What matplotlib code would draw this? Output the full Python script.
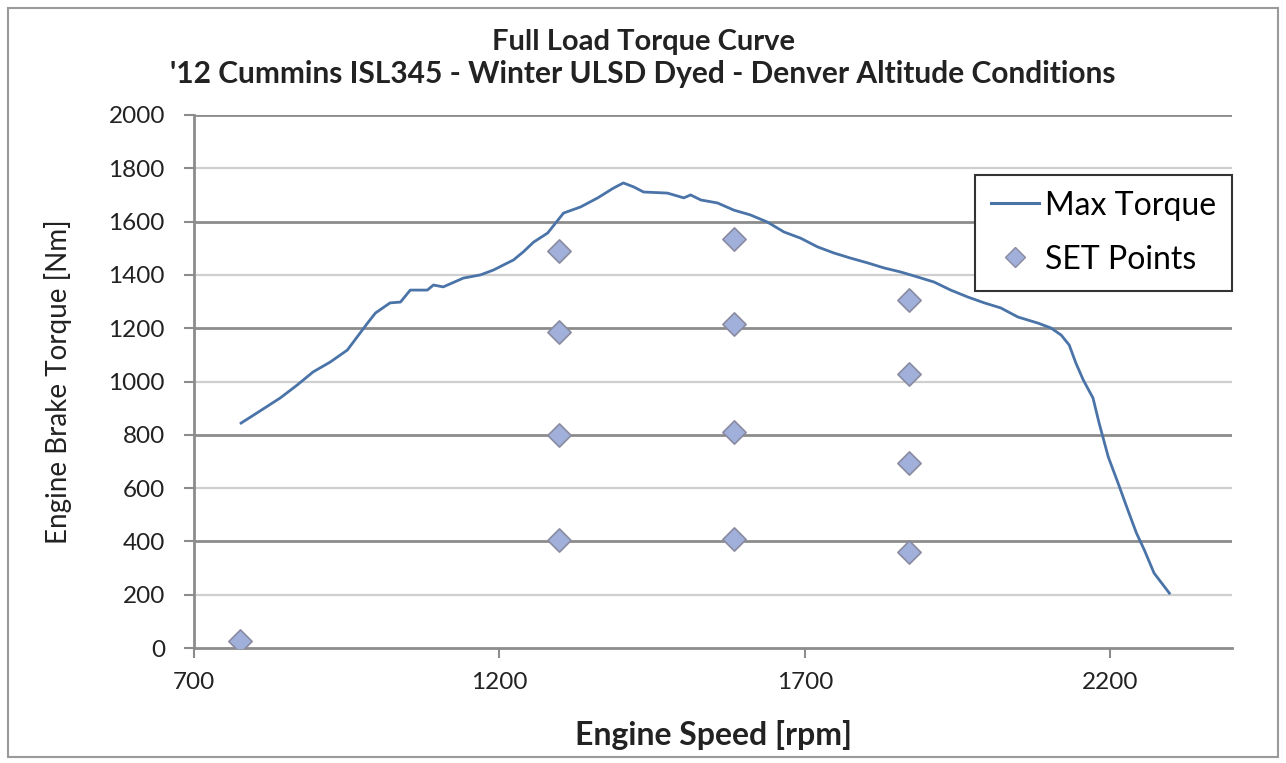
import matplotlib
matplotlib.use("Agg")
import matplotlib.pyplot as plt
from matplotlib.lines import Line2D
from matplotlib.patches import Rectangle

plt.rcParams['font.family'] = ['Lato', 'DejaVu Sans']

# Max torque curve
speed_rpm = [777, 803, 841, 869, 895, 923, 951, 967, 984, 997, 1021, 1038, 1054, 1082, 1092,
             1108, 1141, 1169, 1190, 1223, 1239, 1256, 1279, 1305, 1333, 1361, 1387, 1403, 1420, 1436,
             1475, 1502, 1513, 1530, 1557, 1584, 1611, 1639, 1666, 1693, 1721, 1748, 1775, 1803, 1830,
             1857, 1885, 1912, 1939, 1967, 1994, 2021, 2049, 2082, 2103, 2120, 2133, 2144, 2156, 2172,
             2182, 2197, 2213, 2229, 2243, 2256, 2272, 2297]
torque_nm = [844, 882, 938, 987, 1036, 1073, 1118, 1167, 1219, 1257, 1295, 1298, 1343, 1343, 1362,
             1355, 1388, 1400, 1418, 1456, 1486, 1523, 1557, 1632, 1655, 1689, 1726, 1745, 1730, 1711,
             1707, 1689, 1700, 1681, 1670, 1643, 1625, 1598, 1561, 1538, 1505, 1482, 1463, 1445, 1426,
             1411, 1392, 1373, 1343, 1317, 1295, 1276, 1242, 1219, 1201, 1174, 1137, 1069, 1006, 938,
             844, 717, 619, 518, 432, 368, 281, 206]

# SET points
set_speed = [775, 1297, 1297, 1297, 1297, 1584, 1584, 1584, 1584, 1871, 1871, 1871, 1871]
set_torque = [25, 1490, 1185, 800, 405, 1535, 1215, 810, 410, 1305, 1030, 695, 360]

x_ticks = [700, 1200, 1700, 2200]
y_ticks = list(range(0, 2001, 200))

title_lines = ["Full Load Torque Curve",
               "'12 Cummins ISL345 - Winter ULSD Dyed - Denver Altitude Conditions"]

fig = plt.figure(figsize=(12.86, 7.63), dpi=100)
fig.patches.append(Rectangle((0.006, 0.008), 0.988, 0.982, transform=fig.transFigure,
                             fill=False, edgecolor='#9a9a9a', linewidth=1.5))
ax = fig.add_axes([0.1509, 0.1507, 0.8073, 0.6986])

for v in y_ticks[1:]:
    major = (v % 400 == 0)
    ax.axhline(v, color='#8c8c8c' if major else '#cfcfcf', linewidth=2.0 if major else 1.6, zorder=1)

ax.plot(speed_rpm, torque_nm, color='#4a73a8', linewidth=2.0, zorder=3, label='Max Torque')
ax.scatter(set_speed, set_torque, marker='D', s=140, facecolor='#a0b0da', edgecolor='#8a8aa0',
           linewidth=1.2, zorder=4, label='SET Points')

ax.set_xlim(700, 2400)
ax.set_ylim(0, 2000)
ax.set_xticks(x_ticks)
ax.set_yticks(y_ticks)
ax.tick_params(axis='both', labelsize=17.5, length=7, width=1.5, colors='#8c8c8c', labelcolor='#222222')
ax.tick_params(axis='x', pad=10)
ax.tick_params(axis='y', pad=14)
for s in ['top', 'right']:
    ax.spines[s].set_visible(False)
for s in ['left', 'bottom']:
    ax.spines[s].set_color('#8c8c8c')
    ax.spines[s].set_linewidth(2.0)

ax.set_xlabel('Engine Speed [rpm]', fontsize=23, fontweight='bold', color='#222222', labelpad=20)
ax.set_ylabel('Engine Brake Torque [Nm]', fontsize=20, color='#222222', labelpad=26)

fig.text(0.5, 0.945, title_lines[0], ha='center', va='center', fontsize=21, fontweight='bold', color='#222222')
fig.text(0.5, 0.903, title_lines[1], ha='center', va='center', fontsize=21.5, fontweight='bold', color='#222222')

handles = [Line2D([0], [0], color='#4a73a8', linewidth=2.2),
           Line2D([0], [0], marker='D', linestyle='none', markersize=10, markerfacecolor='#a0b0da',
                  markeredgecolor='#8a8aa0')]
leg = ax.legend(handles, ['Max Torque', 'SET Points'], loc='upper right',
                bbox_to_anchor=(1.0, 0.888), borderaxespad=0, fontsize=23, frameon=True, fancybox=False,
                handlelength=1.5, handletextpad=0.2, borderpad=0.5, labelspacing=0.75)
leg.get_frame().set_edgecolor('#333333')
leg.get_frame().set_linewidth(1.5)
leg.get_frame().set_alpha(1)

fig.savefig('out.png', dpi=100)
